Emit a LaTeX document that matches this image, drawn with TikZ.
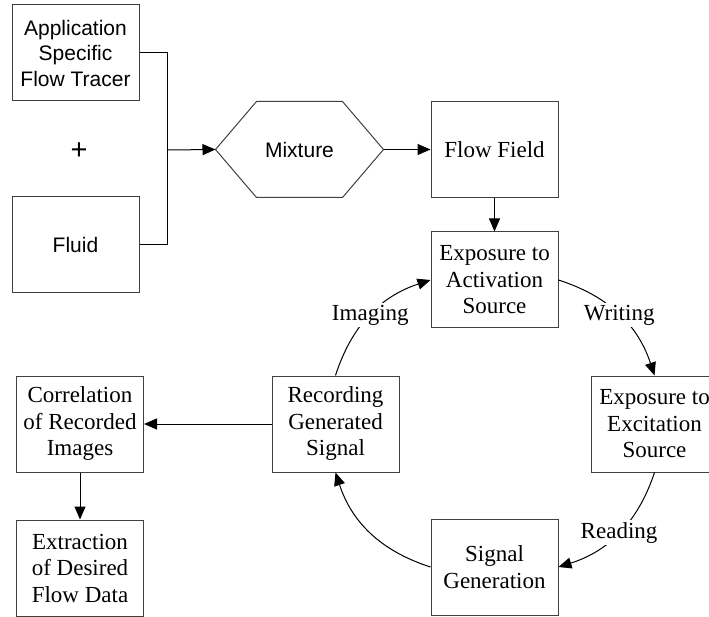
\documentclass[tikz,border=0pt]{standalone}
\usepackage{fontspec}
\setmainfont{Liberation Serif}
\setsansfont{Liberation Sans}
\usetikzlibrary{arrows.meta}
\definecolor{BoxGray}{HTML}{404040}

\begin{document}
\begin{tikzpicture}[x=1pt,y=-1pt,line width=1pt,
	>={Triangle[length=13pt,width=11pt]},
	stepbox/.style={draw=BoxGray, minimum width=127pt, minimum height=96pt, inner sep=0pt, align=center, font=\fontsize{23}{26.5}\selectfont},
	sansbox/.style={stepbox, font=\sffamily\fontsize{21}{25.5}\selectfont},
	cyclelabel/.style={fill=white, inner sep=2pt, font=\fontsize{23}{26.5}\selectfont}]
	\useasboundingbox (0,0) rectangle (709,617);
	\clip (0,0) rectangle (709,617);
	
	% ingredients
	\node[sansbox] (tracer) at (75.5,53) {Application\\Specific\\Flow Tracer};
	\node[sansbox] (fluid) at (75.5,245) {Fluid};
	\node[font=\sffamily\fontsize{29}{30}\selectfont] (plus) at (79,151) {+};
	\coordinate (junction) at (167,150);
	
	\node[minimum width=167pt, minimum height=95pt, inner sep=0pt, font=\sffamily\fontsize{21}{25.5}\selectfont] (mix) at (299.5,149.5) {Mixture};
	\draw[BoxGray] ([xshift=41pt]mix.north west) -- ([xshift=-41pt]mix.north east) -- (mix.east)
		-- ([xshift=-41pt]mix.south east) -- ([xshift=41pt]mix.south west) -- (mix.west) -- cycle;
	
	\node[stepbox] (flow) at (494.5,149.5) {Flow Field};
	
	% cycle
	\node[stepbox] (activation) at (494.5,280) {Exposure to\\Activation\\Source};
	\node[stepbox] (excitation) at (654.5,424) {Exposure to\\Excitation\\Source};
	\node[stepbox] (generation) at (494.5,567) {Signal\\Generation};
	\node[stepbox] (recording) at (335.5,424) {Recording\\Generated\\Signal};
	
	% evaluation
	\node[stepbox] (correlation) at (80,424) {Correlation\\of Recorded\\Images};
	\node[stepbox] (extraction) at (80,568) {Extraction\\of Desired\\Flow Data};
	
	\draw (tracer.east) -| (junction);
	\draw (fluid.east) -| (junction);
	\draw[->] (junction) to (mix.west);
	\draw[->] (mix.east) to (flow.west);
	\draw[->] (flow.south) to (activation.north);
	
	\draw[->] (activation.east) to[bend left=27] node[cyclelabel] {Writing} (excitation.north);
	\draw[->] (excitation.south) to[bend left=27] node[cyclelabel] {Reading} (generation.east);
	\draw[->] (generation.west) to[bend left=27] (recording.south);
	\draw[->] (recording.north) to[bend left=27] node[cyclelabel] {Imaging} (activation.west);
	
	\draw[->] (recording.west) to (correlation.east);
	\draw[->] (correlation.south) to (extraction.north);
\end{tikzpicture}
\end{document}
